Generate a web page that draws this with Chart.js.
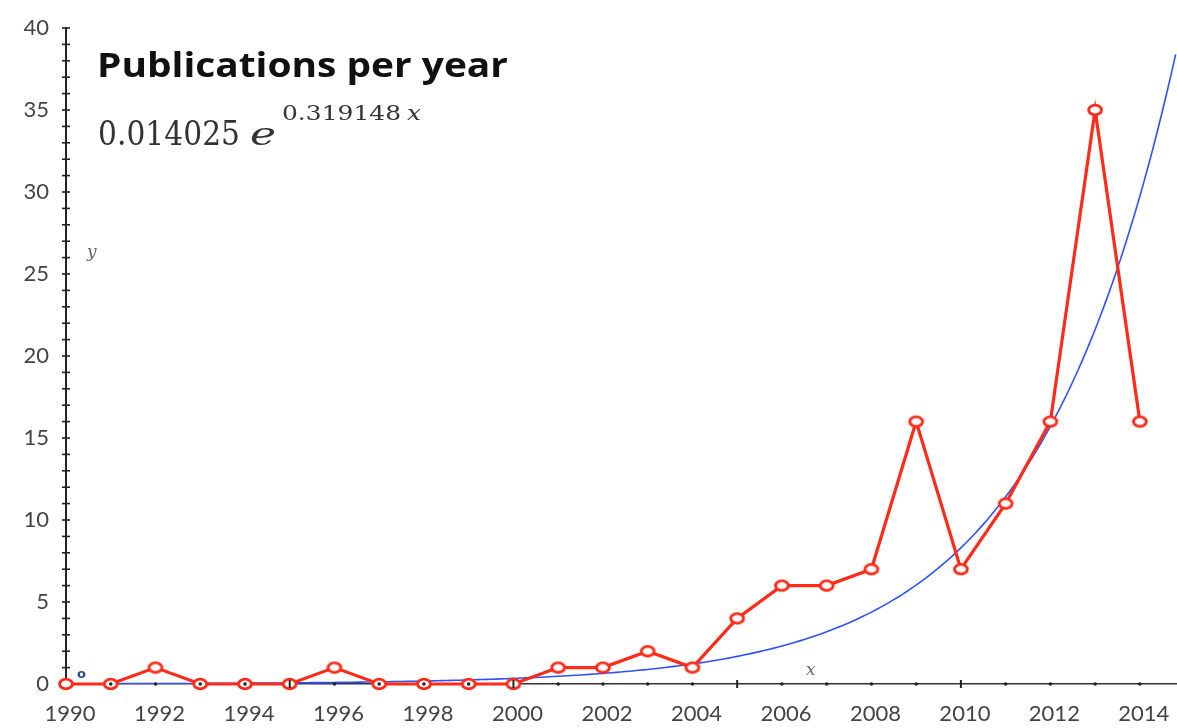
<!DOCTYPE html>
<html>
<head>
<meta charset="utf-8">
<script src="https://cdn.jsdelivr.net/npm/chart.js@4/dist/chart.umd.min.js"></script>
<style>
  html, body { margin: 0; padding: 0; background: #fff; overflow: hidden; }
  #wrap { width: 1177px; height: 728px; position: relative; overflow: hidden; }
  #pubChart { display: block; }
</style>
</head>
<body>
<div id="wrap"><canvas id="pubChart"></canvas></div>
<script>
// Publications per year
const years = [1990, 1991, 1992, 1993, 1994, 1995, 1996, 1997, 1998, 1999, 2000, 2001,
               2002, 2003, 2004, 2005, 2006, 2007, 2008, 2009, 2010, 2011, 2012, 2013, 2014];
const publications = [0, 0, 1, 0, 0, 0, 1, 0, 0, 0, 0, 1,
                      1, 2, 1, 4, 6, 6, 7, 16, 7, 11, 16, 35, 16];
const yTickLabels = [0, 5, 10, 15, 20, 25, 30, 35, 40];
const xTickLabels = [1990, 1992, 1994, 1996, 1998, 2000, 2002, 2004, 2006, 2008, 2010, 2012, 2014];

// exponential fit shown on the chart: a * e^(b * x), x = year - 1990
const fitA = 0.014025;
const fitB = 0.319148;

const X_MIN = 1990, X_MAX = 2014.83;
const RED = '#ff2a18';
const BLUE = '#3050ff';
const LABEL_FONT = 'Lato, "Open Sans", sans-serif';

// fitted curve sampled along the x range
const fitPoints = [];
for (let t = X_MIN; t <= X_MAX + 0.001; t += 0.1) {
    fitPoints.push({ x: t, y: fitA * Math.exp(fitB * (t - X_MIN)) });
}

// open elliptical marker
function makeMarker() {
    const c = document.createElement('canvas');
    c.width = 20; c.height = 16;
    const g = c.getContext('2d');
    g.beginPath();
    g.ellipse(10, 8, 6.4, 4.9, 0, 0, Math.PI * 2);
    g.fillStyle = '#fff';
    g.fill();
    g.lineWidth = 2.8;
    g.strokeStyle = RED;
    g.stroke();
    return c;
}

// draw text squeezed/stretched to a given width
function fitText(ctx, text, x, y, width) {
    const m = ctx.measureText(text).width;
    ctx.save();
    ctx.translate(x, y);
    ctx.scale(width / m, 1);
    ctx.fillText(text, 0, 0);
    ctx.restore();
}

const axisDecor = {
    id: 'axisDecor',
    afterDatasetsDraw(chart) {
        const ctx = chart.ctx;
        const xs = chart.scales.x, ys = chart.scales.y;
        const x0 = xs.getPixelForValue(X_MIN);
        const y0 = ys.getPixelForValue(0);
        ctx.save();
        // y axis minor ticks crossing the axis
        ctx.strokeStyle = '#222';
        ctx.lineWidth = 1.6;
        for (let v = 1; v <= 40; v++) {
            const py = ys.getPixelForValue(v);
            ctx.beginPath();
            ctx.moveTo(x0 - 4, py);
            ctx.lineTo(x0 + 4, py);
            ctx.stroke();
        }
        // x axis dots and small ticks
        ctx.fillStyle = '#222';
        for (let yr = 1991; yr <= 2014; yr++) {
            const px = xs.getPixelForValue(yr);
            if (yr % 5 === 0) {
                ctx.fillRect(px - 1, y0 - 4, 2, 8);
            } else {
                ctx.beginPath();
                ctx.arc(px, y0, 1.8, 0, Math.PI * 2);
                ctx.fill();
            }
        }
        ctx.restore();
    },
    afterDraw(chart) {
        const ctx = chart.ctx;
        ctx.save();
        ctx.textBaseline = 'alphabetic';
        ctx.textAlign = 'left';
        // the "0" tick label is cut off at the bottom in the original
        ctx.fillStyle = '#fff';
        ctx.fillRect(25, 692, 36, 8);
        // title
        ctx.fillStyle = '#111';
        ctx.font = 'bold 34px "Open Sans", Lato, sans-serif';
        fitText(ctx, 'Publications per year', 97, 77, 411);
        // formula
        ctx.fillStyle = '#333';
        ctx.font = '33px "DejaVu Serif", serif';
        fitText(ctx, '0.014025', 98, 145, 142);
        ctx.font = 'italic 32px "DejaVu Serif", serif';
        fitText(ctx, 'e', 250, 145, 26);
        ctx.font = '21px "DejaVu Serif", serif';
        fitText(ctx, '0.319148', 282, 120, 119);
        ctx.font = 'italic 21px "DejaVu Serif", serif';
        fitText(ctx, 'x', 407, 120, 14);
        // axis letters
        ctx.fillStyle = '#666';
        ctx.font = 'italic 17px "DejaVu Serif", serif';
        ctx.fillText('y', 87, 257);
        ctx.fillText('x', 806, 675);
        ctx.fillStyle = '#2a4a8a';
        ctx.font = 'bold 13px "DejaVu Sans", sans-serif';
        ctx.fillText('o', 77, 678);
        ctx.restore();
    }
};

const ctx = document.getElementById('pubChart').getContext('2d');
new Chart(ctx, {
    type: 'line',
    data: {
        datasets: [
            {
                label: 'Publications',
                data: years.map((y, i) => ({ x: y, y: publications[i] })),
                borderColor: RED,
                borderWidth: 3.2,
                pointStyle: makeMarker(),
                pointRadius: 7,
                tension: 0,
                clip: false,
                order: 0
            },
            {
                label: 'Fit',
                data: fitPoints,
                borderColor: BLUE,
                borderWidth: 1.6,
                pointRadius: 0,
                tension: 0,
                order: 1
            }
        ]
    },
    options: {
        responsive: true,
        maintainAspectRatio: false,
        animation: false,
        layout: { autoPadding: false, padding: { top: 28, right: 0, left: 0, bottom: 0 } },
        plugins: {
            legend: { display: false },
            tooltip: { enabled: false }
        },
        scales: {
            x: {
                type: 'linear',
                min: X_MIN,
                max: X_MAX,
                afterFit: s => { s.height = 44; s.paddingLeft = 0; s.paddingRight = 0; },
                border: { display: true, color: '#333', width: 1.5 },
                grid: { display: true, drawOnChartArea: false, drawTicks: false, color: 'rgba(0,0,0,0)' },
                ticks: {
                    stepSize: 1,
                    autoSkip: false,
                    includeBounds: false,
                    maxRotation: 0,
                    padding: 17,
                    labelOffset: 4,
                    color: '#444',
                    font: { family: LABEL_FONT, size: 22 },
                    callback: v => xTickLabels.includes(v) ? String(v) : ''
                }
            },
            y: {
                min: 0,
                max: 40,
                afterFit: s => { s.width = 66; s.paddingTop = 0; s.paddingBottom = 0; },
                border: { display: true, color: '#222', width: 2 },
                grid: { display: true, drawOnChartArea: false, drawTicks: false, color: 'rgba(0,0,0,0)' },
                ticks: {
                    stepSize: 5,
                    padding: 17,
                    color: '#444',
                    font: { family: LABEL_FONT, size: 22 },
                    callback: v => yTickLabels.includes(v) ? String(v) : ''
                }
            }
        }
    },
    plugins: [axisDecor]
});
</script>
</body>
</html>
